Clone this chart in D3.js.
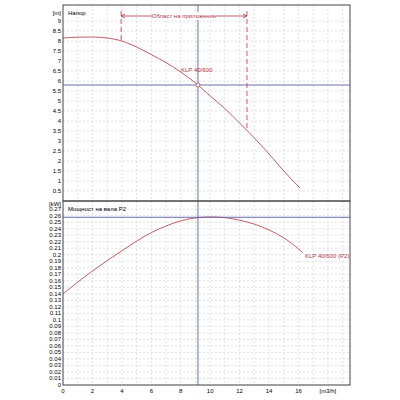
<!DOCTYPE html>
<html><head><meta charset="utf-8">
<script src="https://cdn.jsdelivr.net/npm/d3@7"></script>
<style>body{margin:0;background:#fff}text{font-family:"Liberation Sans",Arial,sans-serif}</style>
</head><body><svg width="400" height="400"></svg>
<script>
var flowQ = [0, 1, 2, 3, 4, 5, 6, 7, 8, 9, 10, 11, 12, 13, 14, 15, 16.1];
var headH = [8.15, 8.19, 8.2, 8.15, 8.0, 7.7, 7.32, 6.92, 6.45, 5.9, 5.25, 4.62, 3.9, 3.15, 2.35, 1.5, 0.65];
var powerQ = [0, 2, 4, 6, 8, 9.2, 10, 11, 12, 13, 14, 15, 16, 16.3];
var powerP = [0.14, 0.175, 0.206, 0.234, 0.252, 0.257, 0.258, 0.257, 0.253, 0.247, 0.238, 0.226, 0.209, 0.203];
var duty = {q: 9.17, h: 5.8, p: 0.2575};
var range = [3.95, 12.5];
var xTicks = [0, 2, 4, 6, 8, 10, 12, 14, 16];

var svg = d3.select("svg");
var red = "#b5333f", blue = "#5a5fa8";
var x = d3.scaleLinear().domain([0, 19.5]).range([63, 350]);
var yH = d3.scaleLinear().domain([0, 9.8]).range([201, 5]);
var yP = d3.scaleLinear().domain([0, 0.2825]).range([385, 201]);

function panel(y, ticks, fmt, unit, unitDy, title) {
  var g = svg.append("g");
  var y0 = y.range()[0], y1 = y.range()[1];
  d3.range(1, 20).forEach(function(v){
    g.append("line").attr("x1", x(v)).attr("x2", x(v)).attr("y1", y1).attr("y2", y0)
      .attr("stroke", "#ccc").attr("stroke-dasharray", "2,2").attr("stroke-width", 0.6);
  });
  ticks.forEach(function(v){
    g.append("line").attr("x1", 63).attr("x2", 350).attr("y1", y(v)).attr("y2", y(v))
      .attr("stroke", "#ccc").attr("stroke-dasharray", "2,2").attr("stroke-width", 0.6);
    g.append("text").attr("x", 61).attr("y", y(v) + 2).attr("text-anchor", "end")
      .attr("font-size", 6).text(fmt(v));
  });
  g.append("text").attr("x", 61).attr("y", y1 + unitDy).attr("text-anchor", "end")
    .attr("font-size", 6).text(unit);
  g.append("text").attr("x", 68).attr("y", y1 + 10).attr("font-size", 6).text(title);
}

panel(yH, d3.range(0.5, 9.01, 0.5), function(v){ return String(+v.toFixed(1)); }, "[m]", 10, "Напор");
panel(yP, d3.range(0, 0.2701, 0.01), function(v){ return String(+v.toFixed(2)); }, "[kW]", 4.5, "Мощност на вала P2");

xTicks.forEach(function(v){
  svg.append("text").attr("x", x(v)).attr("y", 393).attr("text-anchor", "middle")
    .attr("font-size", 6).text(v);
});
svg.append("text").attr("x", x(18)).attr("y", 393).attr("text-anchor", "middle")
  .attr("font-size", 6).text("[m3/h]");

var lineH = d3.line().x(function(d){ return x(d[0]); }).y(function(d){ return yH(d[1]); }).curve(d3.curveMonotoneX);
var lineP = d3.line().x(function(d){ return x(d[0]); }).y(function(d){ return yP(d[1]); }).curve(d3.curveCatmullRom);
svg.append("path").attr("d", lineH(d3.zip(flowQ, headH))).attr("fill", "none").attr("stroke", red).attr("stroke-width", 0.8);
svg.append("path").attr("d", lineP(d3.zip(powerQ, powerP))).attr("fill", "none").attr("stroke", red).attr("stroke-width", 0.8);

svg.append("line").attr("x1", x(duty.q)).attr("x2", x(duty.q)).attr("y1", 5).attr("y2", 385).attr("stroke", blue).attr("stroke-width", 0.9);
svg.append("line").attr("x1", 63).attr("x2", 350).attr("y1", yH(duty.h)).attr("y2", yH(duty.h)).attr("stroke", blue).attr("stroke-width", 0.9);
svg.append("line").attr("x1", 63).attr("x2", 350).attr("y1", yP(duty.p)).attr("y2", yP(duty.p)).attr("stroke", blue).attr("stroke-width", 0.9);
svg.append("circle").attr("cx", x(duty.q)).attr("cy", yH(duty.h)).attr("r", 2).attr("fill", "#fff").attr("stroke", red).attr("stroke-width", 0.7);

var hAt = function(q){ return d3.scaleLinear().domain(flowQ).range(headH)(q); };
var yTop = 16;
range.forEach(function(q){
  svg.append("line").attr("x1", x(q)).attr("x2", x(q)).attr("y1", 11).attr("y2", yH(hAt(q)))
    .attr("stroke", red).attr("stroke-dasharray", "5,3").attr("stroke-width", 0.8);
});
svg.append("line").attr("x1", x(range[0])).attr("x2", x(range[1])).attr("y1", yTop).attr("y2", yTop)
  .attr("stroke", red).attr("stroke-width", 0.8);
svg.append("path").attr("d", "M" + (x(range[0]) + 4) + "," + (yTop - 2) + "L" + x(range[0]) + "," + yTop + "L" + (x(range[0]) + 4) + "," + (yTop + 2)).attr("fill", "none").attr("stroke", red).attr("stroke-width", 0.8);
svg.append("path").attr("d", "M" + (x(range[1]) - 4) + "," + (yTop - 2) + "L" + x(range[1]) + "," + yTop + "L" + (x(range[1]) - 4) + "," + (yTop + 2)).attr("fill", "none").attr("stroke", red).attr("stroke-width", 0.8);
var mid = (x(range[0]) + x(range[1])) / 2;
svg.append("rect").attr("x", mid - 32).attr("y", yTop - 4).attr("width", 64).attr("height", 8).attr("fill", "#fff");
svg.append("text").attr("x", mid).attr("y", yTop + 2).attr("text-anchor", "middle").attr("font-size", 6).attr("fill", red).text("Област на приложение");

svg.append("text").attr("x", 181).attr("y", 72).attr("font-size", 6).attr("fill", red).text("KLP 40/600");
svg.append("text").attr("x", 305).attr("y", 258).attr("font-size", 6).attr("fill", red).text("KLP 40/600 (P2)");

svg.append("rect").attr("x", 63).attr("y", 5).attr("width", 287).attr("height", 196).attr("fill", "none").attr("stroke", "#444").attr("stroke-width", 1);
svg.append("rect").attr("x", 63).attr("y", 201).attr("width", 287).attr("height", 184).attr("fill", "none").attr("stroke", "#444").attr("stroke-width", 1);
</script></body></html>
